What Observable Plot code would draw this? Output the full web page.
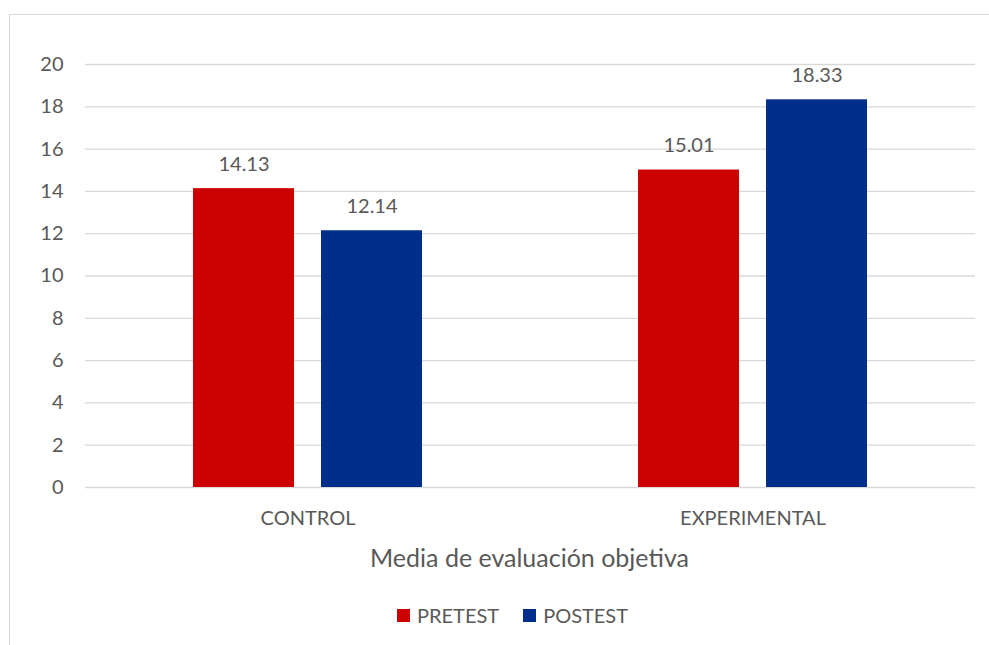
<!DOCTYPE html>
<html>
<head>
<meta charset="utf-8">
<script src="https://cdn.jsdelivr.net/npm/d3@7"></script>
<script src="https://cdn.jsdelivr.net/npm/@observablehq/plot@0.6"></script>
<style>
  html, body { margin: 0; padding: 0; background: #fff; }
  body { width: 989px; height: 645px; position: relative; overflow: hidden; font-family: Lato, "Open Sans", sans-serif; color: #595959; }
  #frame { position: absolute; left: 9px; top: 14px; width: 990px; height: 660px; border: 1px solid #d9d9d9; box-sizing: border-box; }
  #chart { position: absolute; left: 0; top: 0; }
  #xtitle { position: absolute; left: 84px; width: 891px; top: 542px; text-align: center; font-size: 25px; color: #595959; }
  #legend { position: absolute; top: 603px; left: 397px; display: flex; align-items: center; font-size: 20px; color: #595959; }
  #legend .item { display: flex; align-items: center; margin-right: 24px; }
  #legend .sw { width: 13px; height: 13px; margin-right: 7px; }
</style>
</head>
<body>
<div id="frame"></div>
<div id="chart"></div>
<div id="xtitle">Media de evaluación objetiva</div>
<div id="legend"></div>
<script>
// Mean objective evaluation scores by group and test moment
const groups = ["CONTROL", "EXPERIMENTAL"];
const series = ["PRETEST", "POSTEST"];
const pretest = [14.13, 15.01];
const postest = [12.14, 18.33];
const yTicks = [0, 2, 4, 6, 8, 10, 12, 14, 16, 18, 20];
const colors = ["#cc0000", "#002e8a"];

const rows = groups.flatMap((g, i) => [
  {group: g, serie: series[0], value: pretest[i]},
  {group: g, serie: series[1], value: postest[i]}
]);

const textColor = "#595959";

const chart = Plot.plot({
  width: 989,
  height: 580,
  marginTop: 64,
  marginBottom: 93,
  marginLeft: 84,
  marginRight: 14,
  style: {fontFamily: "Lato, 'Open Sans', sans-serif", color: textColor, background: "transparent"},
  fx: {domain: groups, padding: 0, label: null},
  x: {domain: series, paddingInner: 0.21, paddingOuter: 0.84, axis: null},
  y: {domain: [0, 20], ticks: yTicks, label: null},
  color: {domain: series, range: colors},
  marks: [
    Plot.gridY(yTicks, {stroke: "#d9d9d9", strokeOpacity: 1, strokeWidth: 1.3}),
    Plot.axisY({ticks: yTicks, tickSize: 0, tickPadding: 22, fontSize: 20, label: null, fill: textColor}),
    Plot.axisFx({anchor: "bottom", tickSize: 0, tickPadding: 23, fontSize: 20, label: null, fill: textColor}),
    Plot.barY(rows, {fx: "group", x: "serie", y: "value", fill: "serie"}),
    Plot.text(rows, {fx: "group", x: "serie", y: "value", text: d => d.value.toFixed(2),
      lineAnchor: "bottom", dy: -18, fontSize: 20, fill: textColor})
  ]
});

document.getElementById("chart").appendChild(chart);

// Legend below the chart
const legend = d3.select("#legend");
series.forEach((s, i) => {
  const item = legend.append("div").attr("class", "item");
  item.append("div").attr("class", "sw").style("background", colors[i]);
  item.append("span").text(s);
});
</script>
</body>
</html>
